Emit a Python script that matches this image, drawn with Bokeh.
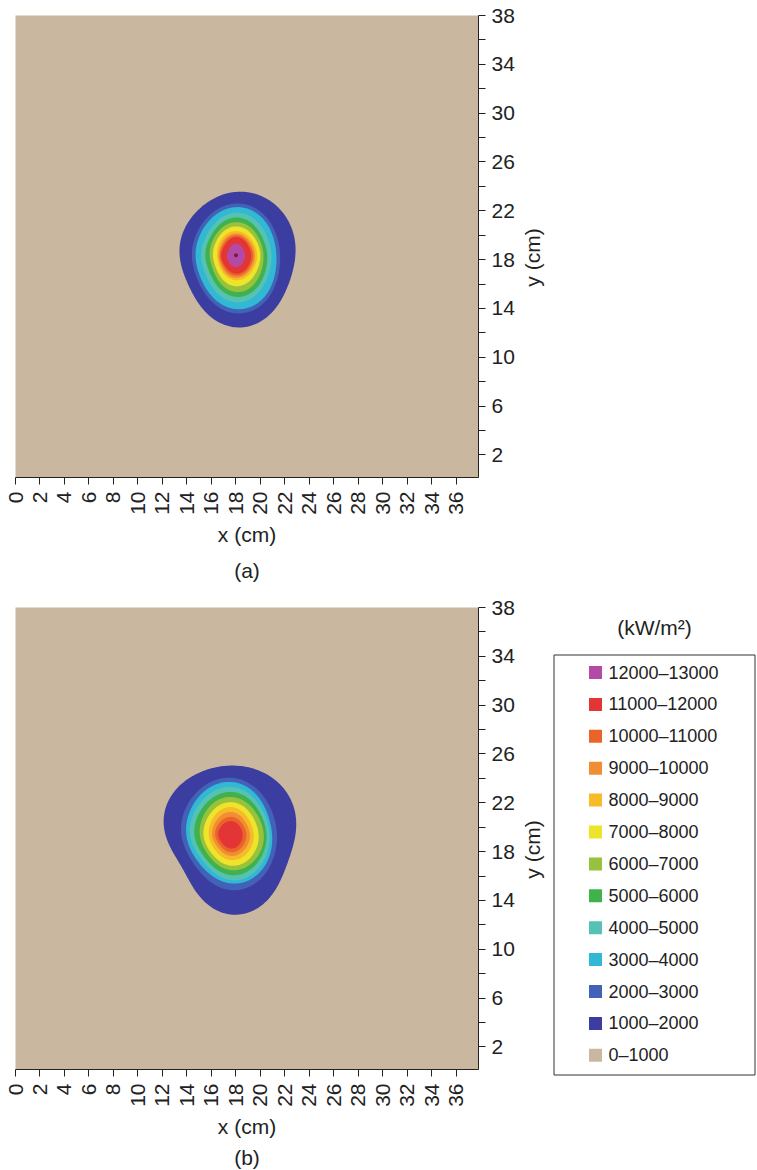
import math
import numpy as np
from bokeh.plotting import figure
from bokeh.models import FixedTicker, Range1d, Title
from bokeh.layouts import column, row
from bokeh.embed import file_html
from bokeh.resources import INLINE
from bokeh.core.properties import value

FONT = "Liberation Sans"
TXT = "#222222"

# ---- data -------------------------------------------------------------
band_labels = ["0–1000", "1000–2000", "2000–3000", "3000–4000", "4000–5000",
               "5000–6000", "6000–7000", "7000–8000", "8000–9000", "9000–10000",
               "10000–11000", "11000–12000", "12000–13000"]
band_colors = ["#CAB7A0", "#3B3EA0", "#4262B8", "#31B8D4", "#55C2B3", "#3FB24C",
               "#98C23E", "#EEE52B", "#F7BA2A", "#F18E33", "#EA6429", "#E33535", "#B24AA6"]
unit_label = "(kW/m²)"

x_ticks = [0, 2, 4, 6, 8, 10, 12, 14, 16, 18, 20, 22, 24, 26, 28, 30, 32, 34, 36]
y_ticks = [2, 6, 10, 14, 18, 22, 26, 30, 34, 38]
y_minor_ticks = [4, 8, 12, 16, 20, 24, 28, 32, 36]

# contour boundaries (cm): radius in directions
# E, NE, N, NW, W, SW, S, SE around the peak; one row per level 1000, 2000, ...
a_center = (18.0, 18.35)
a_radii = [
    [4.85, 5.2, 5.2, 4.8, 4.6, 4.8, 5.9, 5.2],     # 1000
    [3.6, 3.9, 4.25, 3.8, 3.6, 3.9, 4.75, 4.2],    # 2000
    [3.3, 3.6, 3.95, 3.5, 3.3, 3.6, 4.4, 3.9],     # 3000
    [2.9, 3.1, 3.5, 3.0, 2.85, 3.1, 3.85, 3.3],    # 4000
    [2.55, 2.7, 3.1, 2.65, 2.5, 2.7, 3.4, 2.95],   # 5000
    [2.25, 2.4, 2.72, 2.35, 2.15, 2.35, 3.0, 2.6], # 6000
    [2.0, 2.1, 2.37, 2.05, 1.88, 2.05, 2.53, 2.2], # 7000
    [1.72, 1.8, 2.0, 1.75, 1.55, 1.7, 2.04, 1.85], # 8000
    [1.55, 1.6, 1.8, 1.55, 1.42, 1.55, 1.85, 1.65],# 9000
    [1.4, 1.45, 1.65, 1.4, 1.32, 1.4, 1.68, 1.5],  # 10000
    [1.25, 1.3, 1.5, 1.25, 1.22, 1.25, 1.5, 1.35], # 11000
    [0.76, 0.8, 0.95, 0.78, 0.74, 0.8, 0.95, 0.82],# 12000
]
b_center = (17.55, 19.35)
b_radii = [
    [5.3, 5.8, 5.7, 5.8, 5.3, 4.95, 6.5, 5.6],     # 1000
    [3.8, 4.1, 4.7, 4.4, 4.0, 3.85, 4.5, 4.2],     # 2000
    [3.4, 3.7, 4.36, 4.0, 3.6, 3.45, 3.95, 3.8],   # 3000
    [3.2, 3.4, 3.95, 3.6, 3.3, 3.1, 3.68, 3.5],    # 4000
    [2.94, 3.1, 3.54, 3.2, 2.94, 2.8, 3.27, 3.15], # 5000
    [2.72, 2.8, 3.13, 2.8, 2.5, 2.45, 2.86, 2.85], # 6000
    [2.3, 2.4, 2.7, 2.4, 2.2, 2.15, 2.5, 2.45],    # 7000
    [1.9, 2.0, 2.3, 2.0, 1.77, 1.75, 2.04, 2.0],   # 8000
    [1.6, 1.65, 1.9, 1.65, 1.5, 1.45, 1.7, 1.65],  # 9000
    [1.3, 1.35, 1.5, 1.35, 1.25, 1.2, 1.4, 1.35],  # 10000
    [1.0, 1.05, 1.15, 1.05, 1.0, 0.95, 1.1, 1.05], # 11000
]


def ring(center, radii, n=240):
    """Smooth closed curve through the boundary points (periodic Fourier in angle)."""
    cx, cy = center
    r = np.asarray(radii, float)
    N = len(r)
    R = np.fft.rfft(r)
    th = np.linspace(0, 2 * np.pi, n, endpoint=False)
    rr = np.full(n, R[0].real / N)
    for m in range(1, len(R)):
        w = 1.0 if (N % 2 == 0 and m == N // 2) else 2.0
        rr += w * (R[m] * np.exp(1j * m * th)).real / N
    return cx + rr * np.cos(th), cy + rr * np.sin(th)


def panel(center, radii, tag, top, bottom, title_standoff, peak):
    p = figure(frame_width=463, frame_height=462,
               x_range=Range1d(0, 37.8), y_range=Range1d(0.15, 38),
               output_backend="svg", toolbar_location=None,
               y_axis_location="right",
               min_border_left=15, min_border_top=top, min_border_right=40,
               min_border_bottom=bottom,
               background_fill_color=band_colors[0], border_fill_color="white",
               outline_line_color=None)
    p.grid.visible = False
    for k, rr in enumerate(radii):
        xs, ys = ring(center, rr)
        p.patch(xs, ys, fill_color=band_colors[k + 1], line_color=None)
    if peak:
        p.scatter([center[0]], [center[1]], size=4, color="#7A1B45", line_color=None)

    xa = p.xaxis[0]
    xa.ticker = FixedTicker(ticks=x_ticks)
    xa.major_label_orientation = math.pi / 2
    xa.axis_label = "x (cm)"
    ya = p.yaxis[0]
    ya.ticker = FixedTicker(ticks=y_ticks, minor_ticks=y_minor_ticks)
    for ax in (xa, ya):
        ax.axis_line_color = "#222222"
        ax.major_tick_line_color = "#222222"
        ax.minor_tick_line_color = "#222222"
        ax.major_tick_in = 0
        ax.major_tick_out = 7
        ax.minor_tick_in = 0
        ax.minor_tick_out = 7
        ax.major_label_text_font = FONT
        ax.major_label_text_font_size = "21px"
        ax.major_label_text_color = TXT
        ax.axis_label_text_font = FONT
        ax.axis_label_text_font_size = "21px"
        ax.axis_label_text_font_style = "normal"
        ax.axis_label_text_color = TXT
    xa.major_label_standoff = 7
    xa.axis_label_standoff = 5
    ya.major_label_standoff = 6
    p.add_layout(Title(text=tag, align="center", text_font=FONT, text_font_size="21px",
                       text_font_style="normal", text_color=TXT,
                       standoff=title_standoff), "below")
    return p


def ylabel_fig(height, cy):
    """Narrow strip carrying the 'y (cm)' axis title, reading bottom to top."""
    w = 32
    f = figure(frame_width=w, frame_height=height, x_range=Range1d(0, w),
               y_range=Range1d(height, 0), output_backend="svg", toolbar_location=None,
               x_axis_location=None, y_axis_location=None, min_border=0,
               outline_line_color=None, border_fill_color="white",
               background_fill_color="white")
    f.grid.visible = False
    f.text(x=[14], y=[cy], text=["y (cm)"], angle=math.pi / 2,
           text_font=value(FONT), text_font_size="21px", text_color=TXT,
           text_align="center", text_baseline="middle")
    return f


fa = panel(a_center, a_radii, "(a)", 15, 115, 17, True)
fb = panel(b_center, b_radii, "(b)", 15, 101, 7, False)
ya_fig = ylabel_fig(592, 242)
yb_fig = ylabel_fig(578, 242)

# legend drawn in its own small figure (pixel-like coordinates, y downward)
LW, LH = 207, 578
fl = figure(frame_width=LW, frame_height=LH, x_range=Range1d(0, LW), y_range=Range1d(LH, 0),
            output_backend="svg", toolbar_location=None, x_axis_location=None,
            y_axis_location=None, min_border=0, outline_line_color=None,
            border_fill_color="white", background_fill_color="white")
fl.grid.visible = False
order = list(range(len(band_labels)))[::-1]
item_y = [65 + 31.9 * i for i in range(len(order))]
fl.quad(left=[3.5], right=[204.5], top=[47.5], bottom=[467.5], fill_color=None,
        line_color="#333333", line_width=1)
fl.rect(x=[45] * len(order), y=item_y, width=13, height=13,
        fill_color=[band_colors[j] for j in order], line_color=None)
fl.text(x=[58] * len(order), y=item_y, text=[band_labels[j] for j in order],
        text_font=value(FONT), text_font_size="18px", text_color=TXT,
        text_baseline="middle", text_align="left")
fl.text(x=[104], y=[20], text=[unit_label], text_font=value(FONT), text_font_size="21px",
        text_color=TXT, text_baseline="middle", text_align="center")

layout = column(row(fa, ya_fig), row(fb, yb_fig, fl))
open("out.html", "w").write(file_html(layout, INLINE))
